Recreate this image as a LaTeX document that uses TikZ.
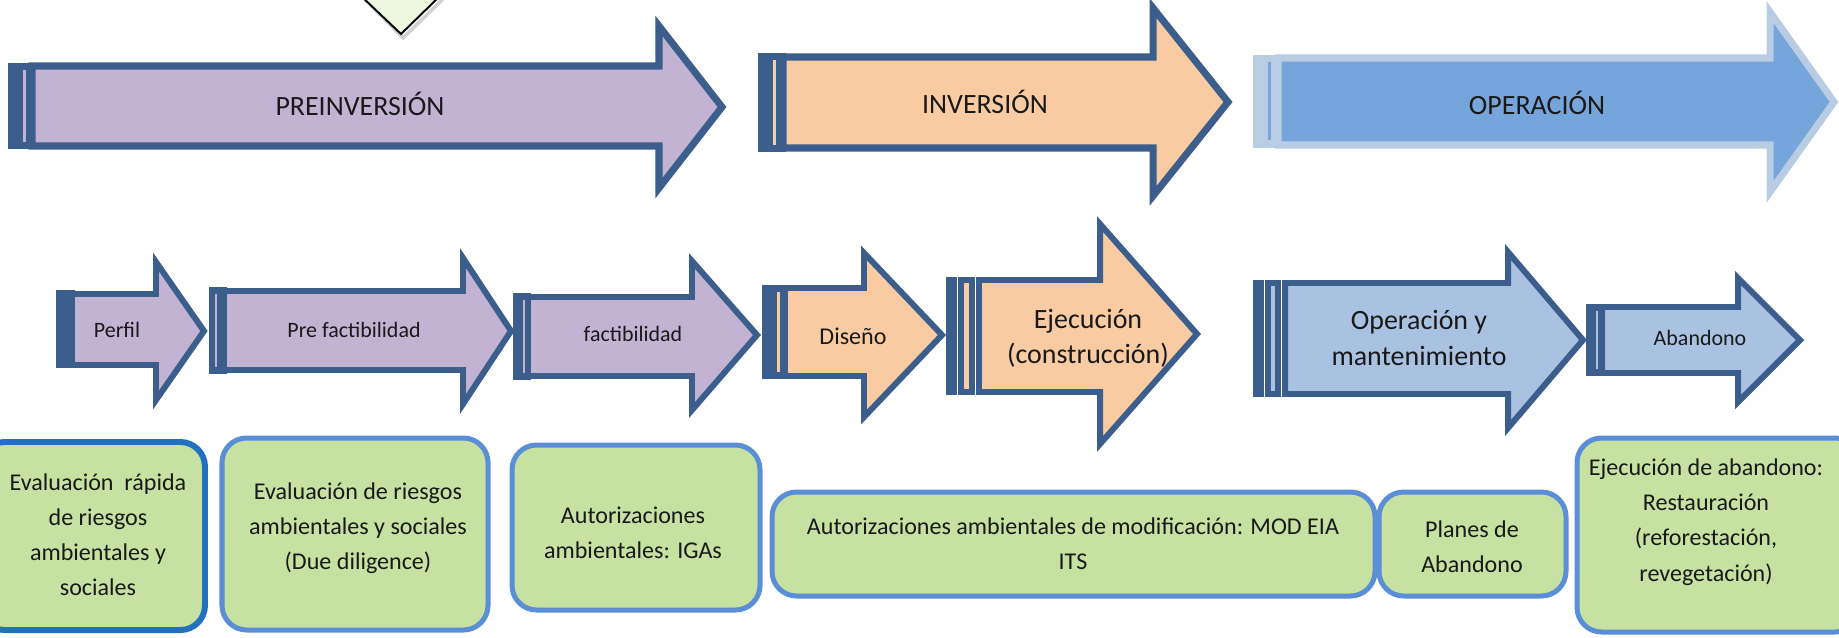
\documentclass[tikz,border=0pt]{standalone}
\usepackage{fontspec}
\setmainfont{Carlito}
\definecolor{edgeblue}{HTML}{3B5E8C}
\definecolor{arrowlilac}{HTML}{C3B3D2}
\definecolor{arrowpeach}{HTML}{F9CBA3}
\definecolor{arrowblue}{HTML}{A9C2E1}
\definecolor{opblue}{HTML}{76A5DB}
\definecolor{opedge}{HTML}{B8CCE4}
\definecolor{boxgreen}{HTML}{C6E1A1}
\definecolor{boxedge}{HTML}{5A8ED6}
\definecolor{boxedgedark}{HTML}{2370BF}
\definecolor{calloutgreen}{HTML}{EEF8DF}
\tikzset{
  phase/.style={draw=edgeblue, line width=3.4pt, line join=miter},
  bigphase/.style={phase, line width=4pt},
  stage/.style={draw=boxedge, line width=2.85pt, fill=boxgreen, rounded corners=14pt},
  biglbl/.style={font=\fontsize{15.9}{20}\selectfont, text=black!90},
  smalllbl/.style={font=\fontsize{12.5}{16}\selectfont, text=black!90},
  lbl/.style={font=\fontsize{13.7}{20}\selectfont, align=center, text=black!90},
}
\begin{document}
\begin{tikzpicture}[x=0.02cm, y=-0.02cm]
  \useasboundingbox (0,0) rectangle (1839,637);
  \clip (0,0) rectangle (1839,637);
  % callout tip at the top
  \draw[black!18, line width=2pt] (363,-3) -- (403,38) -- (445,-3);
  \draw[fill=calloutgreen, line width=1.1pt] (360,-5) -- (401,34) -- (441,-5) -- cycle;

  % phases
  \fill[edgeblue] (8,63) rectangle (35,149);
  \draw[arrowlilac, line width=1.7pt] (24.5,70) -- (24.5,142);
  \draw[bigphase, fill=arrowlilac] (32,66) -- (659,66) -- (659,26) -- (722,107) -- (659,188) -- (659,146) -- (32,146) -- cycle;
  \node[biglbl] (preinv) at (360,104) {PREINVERSIÓN};

  \fill[edgeblue] (758,53) rectangle (786,152);
  \draw[arrowpeach, line width=1.7pt] (774,60) -- (774,145);
  \draw[bigphase, fill=arrowpeach] (783,57) -- (1153,57) -- (1153,8) -- (1228,102) -- (1153,196) -- (1153,148) -- (783,148) -- cycle;
  \node[biglbl] (inv) at (985,102) {INVERSIÓN};

  \fill[opedge] (1253,55) rectangle (1281,148);
  \draw[opblue, line width=1.7pt] (1269,62) -- (1269,140);
  \draw[bigphase, draw=opedge, fill=opblue] (1278,58) -- (1770,58) -- (1770,12) -- (1834,102) -- (1770,192) -- (1770,145) -- (1278,145) -- cycle;
  \node[biglbl] (oper) at (1537,103) {OPERACIÓN};

  % stages
  \fill[edgeblue] (56,290) rectangle (75,368);
  \draw[phase, fill=arrowlilac] (72,294) -- (156,294) -- (156,262) -- (204,331) -- (156,400) -- (156,365) -- (72,365) -- cycle;
  \node[smalllbl] (perfil) at (117,330) {Perfil};

  \fill[edgeblue] (209,287) rectangle (227,374);
  \draw[arrowlilac, line width=0.9pt] (216,294) -- (216,367);
  \draw[phase, fill=arrowlilac] (224,291) -- (463,291) -- (463,258) -- (511,331) -- (463,404) -- (463,370) -- (224,370) -- cycle;
  \node[smalllbl] (prefact) at (354,330) {Pre factibilidad};

  \fill[edgeblue] (513,293) rectangle (531,380);
  \draw[arrowlilac, line width=0.9pt] (524,300) -- (524,373);
  \draw[phase, fill=arrowlilac] (528,297) -- (692,297) -- (692,261) -- (757,335) -- (692,410) -- (692,376) -- (528,376) -- cycle;
  \node[smalllbl] (fact) at (633,334) {factibilidad};

  \fill[edgeblue] (762,285) rectangle (788,379);
  \draw[arrowpeach, line width=2.2pt] (778.5,292) -- (778.5,372);
  \draw[phase, fill=arrowpeach] (785,288) -- (864,288) -- (864,253) -- (942,335) -- (864,417) -- (864,376) -- (785,376) -- cycle;
  \node[lbl] (diseno) at (853,336) {Diseño};

  \draw[phase, fill=arrowpeach] (949,280) rectangle (954,392);
  \draw[phase, fill=arrowpeach] (961,280) rectangle (972,392);
  \draw[phase, fill=arrowpeach] (979,280) -- (1100,280) -- (1100,224) -- (1197,334) -- (1100,444) -- (1100,392) -- (979,392) -- cycle;
  \node[biglbl, align=center] (ejec) at (1088,338) {Ejecución\\(construcción)};

  \draw[phase, fill=arrowblue] (1256,283) rectangle (1261,394);
  \draw[phase, fill=arrowblue] (1268,283) rectangle (1278,394);
  \draw[phase, fill=arrowblue] (1285,283) -- (1508,283) -- (1508,252) -- (1583,340) -- (1508,428) -- (1508,394) -- (1285,394) -- cycle;
  \node[biglbl, align=center] (opmant) at (1419,338) {Operación y\\mantenimiento};

  \fill[edgeblue] (1586,304) rectangle (1605,376);
  \draw[arrowblue, line width=0.9pt] (1597,311) -- (1597,369);
  \draw[phase, fill=arrowblue] (1602,307) -- (1738,307) -- (1738,278) -- (1800,340) -- (1738,402) -- (1738,373) -- (1602,373) -- cycle;
  \node[smalllbl] (aband) at (1700,338) {Abandono};

  % environmental instruments
  \draw[stage, draw=boxedgedark, line width=3.4pt] (-20,442) rectangle (205,630);
  \node[lbl] (evarap) at (98,535) {Evaluación~ rápida\\de riesgos\\ambientales y\\sociales};
  \draw[stage] (222,438) rectangle (488,630);
  \node[lbl] (evadue) at (358,528) {Evaluación de riesgos\\ambientales y sociales\\(Due diligence)};
  \draw[stage] (512,445) rectangle (760,610);
  \node[lbl] (igas) at (633,533) {Autorizaciones\\ambientales: IGAs};
  \draw[stage] (772,492) rectangle (1375,596);
  \node[lbl] (modeia) at (1073,544) {Autorizaciones ambientales de modificación: MOD EIA\\ITS};
  \draw[stage] (1379,492) rectangle (1566,596);
  \node[lbl] (planes) at (1472,547) {Planes de\\Abandono};
  \draw[stage] (1577,438) rectangle (1860,632);
  \node[lbl] (ejecab) at (1706,522) {Ejecución de abandono:\\Restauración\\(reforestación,\\revegetación)};
\end{tikzpicture}
\end{document}
